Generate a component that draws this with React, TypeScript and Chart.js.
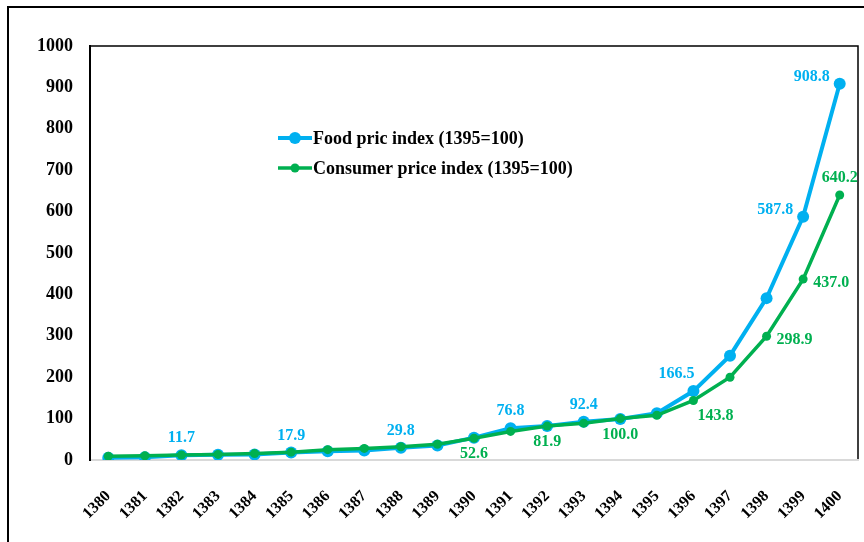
import React, { useEffect, useRef } from 'react';
import { Chart, registerables } from 'chart.js';

Chart.register(...registerables);

const years = ['1380','1381','1382','1383','1384','1385','1386','1387','1388','1389','1390','1391','1392','1393','1394','1395','1396','1397','1398','1399','1400'];
const foodIndex = [5.5, 6.5, 11.7, 12.5, 13.5, 17.9, 21, 23, 29.8, 35, 54, 76.8, 82, 92.4, 99, 113, 166.5, 252, 391, 587.8, 908.8];
const cpiIndex = [9, 10, 12, 13.5, 15.5, 19, 25, 28, 32, 38, 52.6, 69, 81.9, 89, 100, 108, 143.8, 200, 298.9, 437.0, 640.2];
const yTicks = [0, 100, 200, 300, 400, 500, 600, 700, 800, 900, 1000];

const foodName = 'Food pric index (1395=100)';
const cpiName = 'Consumer price index (1395=100)';

// which points carry a value label, and where it sits relative to the point
const foodLabelPlaces: Record<number, string> = { 2: 'above', 5: 'above', 8: 'above', 11: 'above', 13: 'above', 16: 'aboveLeft', 19: 'left', 20: 'left' };
const cpiLabelPlaces: Record<number, string> = { 10: 'below', 12: 'below', 14: 'below', 16: 'belowRight', 18: 'right', 19: 'right', 20: 'above' };

const BLUE = '#00B0F0';
const GREEN = '#00B050';
const FONT = '"Liberation Serif", "Times New Roman", serif';

export default function App() {
  const ref = useRef<HTMLCanvasElement | null>(null);

  useEffect(() => {
    const canvas = ref.current;
    if (!canvas) return;

    const framePlugin = {
      id: 'frame',
      beforeDraw(chart: any) {
        const ctx = chart.ctx;
        ctx.save();
        ctx.fillStyle = '#ffffff';
        ctx.fillRect(0, 0, chart.width, chart.height);
        ctx.strokeStyle = '#000';
        ctx.lineWidth = 2;
        ctx.beginPath();
        ctx.moveTo(8, chart.height);
        ctx.lineTo(8, 7);
        ctx.lineTo(chart.width, 7);
        ctx.stroke();
        const a = chart.chartArea;
        ctx.lineWidth = 1.5;
        ctx.beginPath();
        ctx.moveTo(a.left, a.top);
        ctx.lineTo(a.right, a.top);
        ctx.lineTo(a.right, a.bottom);
        ctx.stroke();
        ctx.restore();
      },
    };

    const labelPlugin = {
      id: 'valueLabels',
      afterDatasetsDraw(chart: any) {
        const ctx = chart.ctx;
        const draw = (dsIndex: number, values: number[], places: Record<number, string>, color: string) => {
          const meta = chart.getDatasetMeta(dsIndex);
          ctx.save();
          ctx.font = `bold 16px ${FONT}`;
          ctx.fillStyle = color;
          ctx.textBaseline = 'middle';
          Object.keys(places).forEach((k) => {
            const i = Number(k);
            const pt = meta.data[i];
            if (!pt) return;
            const text = values[i].toFixed(1);
            const p = places[i];
            let x = pt.x, y = pt.y;
            ctx.textAlign = 'center';
            if (p === 'above') { y -= 17; }
            else if (p === 'below') { y += 16; }
            else if (p === 'left') { ctx.textAlign = 'right'; x -= 10; y -= 7; }
            else if (p === 'right') { ctx.textAlign = 'left'; x += 10; y += 4; }
            else if (p === 'aboveLeft') { x -= 17; y -= 17; }
            else if (p === 'belowRight') { x += 22; y += 15; }
            ctx.fillText(text, x, y);
          });
          ctx.restore();
        };
        draw(0, foodIndex, foodLabelPlaces, BLUE);
        draw(1, cpiIndex, cpiLabelPlaces, GREEN);
      },
    };

    const legendPlugin = {
      id: 'insideLegend',
      afterDraw(chart: any) {
        const ctx = chart.ctx;
        const items = [
          { text: foodName, color: BLUE, lw: 4, r: 6, y: 138 },
          { text: cpiName, color: GREEN, lw: 3.5, r: 4.5, y: 168 },
        ];
        ctx.save();
        items.forEach((it) => {
          ctx.strokeStyle = it.color;
          ctx.lineWidth = it.lw;
          ctx.beginPath();
          ctx.moveTo(278, it.y);
          ctx.lineTo(312, it.y);
          ctx.stroke();
          ctx.fillStyle = it.color;
          ctx.beginPath();
          ctx.arc(295, it.y, it.r, 0, Math.PI * 2);
          ctx.fill();
          ctx.fillStyle = '#000';
          ctx.font = `bold 18px ${FONT}`;
          ctx.textAlign = 'left';
          ctx.textBaseline = 'middle';
          ctx.fillText(it.text, 313, it.y + 1);
        });
        ctx.restore();
      },
    };

    const chart = new Chart(canvas, {
      type: 'line',
      data: {
        labels: years,
        datasets: [
          {
            label: foodName,
            data: foodIndex,
            borderColor: BLUE,
            backgroundColor: BLUE,
            pointBackgroundColor: BLUE,
            pointBorderWidth: 0,
            pointRadius: 6,
            borderWidth: 4,
            tension: 0,
            order: 1,
          },
          {
            label: cpiName,
            data: cpiIndex,
            borderColor: GREEN,
            backgroundColor: GREEN,
            pointBackgroundColor: GREEN,
            pointBorderWidth: 0,
            pointRadius: 4.5,
            borderWidth: 3.5,
            tension: 0,
            order: 0,
          },
        ],
      },
      options: {
        responsive: false,
        animation: false,
        layout: { padding: { top: 46, right: 4, bottom: 0, left: 0 } },
        plugins: {
          legend: { display: false },
          tooltip: { enabled: false },
        },
        scales: {
          x: {
            offset: true,
            grid: { display: false, drawTicks: false },
            border: { display: true, color: '#d9d9d9', width: 2 },
            ticks: {
              color: '#000',
              font: { family: FONT, size: 16, weight: 'bold' },
              minRotation: 45,
              maxRotation: 45,
              padding: 27,
              autoSkip: false,
            },
            afterFit: (s: any) => { s.height = 82; s.paddingLeft = 0; s.paddingRight = 0; },
          },
          y: {
            min: 0,
            max: 1000,
            grid: { display: false, drawTicks: false },
            border: { display: true, color: '#000', width: 2 },
            afterBuildTicks: (s: any) => { s.ticks = yTicks.map((v) => ({ value: v })); },
            ticks: {
              color: '#000',
              font: { family: FONT, size: 18, weight: 'bold' },
              padding: 17,
              callback: (v: any) => String(v),
            },
            afterFit: (s: any) => { s.width = 90; },
          },
        },
      },
      plugins: [framePlugin, labelPlugin, legendPlugin],
    } as any);

    return () => chart.destroy();
  }, []);

  return (
    <canvas
      ref={ref}
      width={864}
      height={542}
      style={{ position: 'fixed', left: 0, top: 0, width: 864, height: 542 }}
    />
  );
}
